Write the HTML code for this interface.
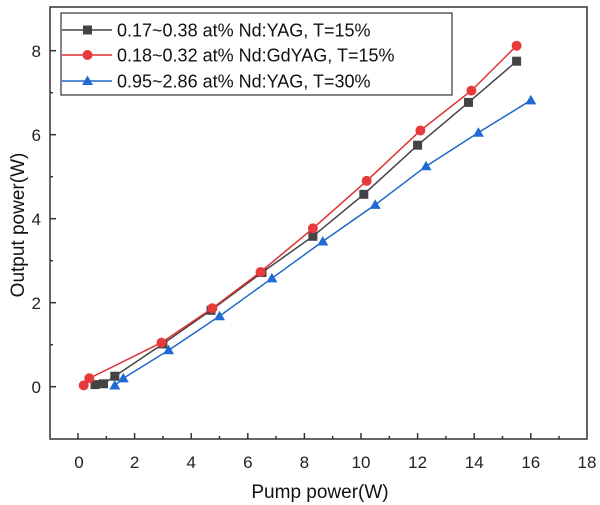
<!DOCTYPE html>
<html><head><meta charset="utf-8"><style>
body{margin:0;background:#fff;}
svg{display:block;font-family:"Liberation Sans",Arial,sans-serif;}
</style></head><body>
<svg width="600" height="505" viewBox="0 0 600 505" xmlns="http://www.w3.org/2000/svg">
<rect x="0" y="0" width="600" height="505" fill="#fff"/>
<rect x="50" y="7" width="537" height="432" fill="none" stroke="#333" stroke-width="1.5"/>
<g stroke="#333" stroke-width="1.5">
<line x1="78" y1="439" x2="78" y2="433"/><line x1="134.6" y1="439" x2="134.6" y2="433"/><line x1="191.2" y1="439" x2="191.2" y2="433"/><line x1="247.8" y1="439" x2="247.8" y2="433"/><line x1="304.4" y1="439" x2="304.4" y2="433"/><line x1="361" y1="439" x2="361" y2="433"/><line x1="417.6" y1="439" x2="417.6" y2="433"/><line x1="474.2" y1="439" x2="474.2" y2="433"/><line x1="530.8" y1="439" x2="530.8" y2="433"/>
<line x1="106.3" y1="439" x2="106.3" y2="436"/><line x1="162.9" y1="439" x2="162.9" y2="436"/><line x1="219.5" y1="439" x2="219.5" y2="436"/><line x1="276.1" y1="439" x2="276.1" y2="436"/><line x1="332.7" y1="439" x2="332.7" y2="436"/><line x1="389.3" y1="439" x2="389.3" y2="436"/><line x1="445.9" y1="439" x2="445.9" y2="436"/><line x1="502.5" y1="439" x2="502.5" y2="436"/><line x1="559.1" y1="439" x2="559.1" y2="436"/>
<line x1="50" y1="386.7" x2="56" y2="386.7"/><line x1="50" y1="302.7" x2="56" y2="302.7"/><line x1="50" y1="218.7" x2="56" y2="218.7"/><line x1="50" y1="134.7" x2="56" y2="134.7"/><line x1="50" y1="50.7" x2="56" y2="50.7"/>
<line x1="50" y1="344.7" x2="53" y2="344.7"/><line x1="50" y1="260.7" x2="53" y2="260.7"/><line x1="50" y1="176.7" x2="53" y2="176.7"/><line x1="50" y1="92.7" x2="53" y2="92.7"/>
</g>
<g font-size="17" fill="#222" text-anchor="middle">
<text x="79" y="468">0</text><text x="134.6" y="468">2</text><text x="191.2" y="468">4</text><text x="247.8" y="468">6</text><text x="304.4" y="468">8</text><text x="361" y="468">10</text><text x="417.6" y="468">12</text><text x="474.2" y="468">14</text><text x="530.8" y="468">16</text><text x="587" y="468">18</text>
</g>
<g font-size="17" fill="#222" text-anchor="end">
<text x="41" y="393">0</text><text x="41" y="309">2</text><text x="41" y="225">4</text><text x="41" y="141">6</text><text x="41" y="57">8</text>
</g>
<text x="320" y="498" font-size="19" fill="#111" text-anchor="middle">Pump power(W)</text>
<text transform="translate(24,225) rotate(-90)" font-size="19" fill="#111" text-anchor="middle">Output power(W)</text>
<!-- black -->
<polyline fill="none" stroke="#444" stroke-width="1.5" points="95,384.6 103.5,383.8 114.8,376.2 162.9,343.9 211,310.3 262,272.5 312.9,236.3 363.8,194.3 417.6,145.2 468.5,102.4 516.6,61.2"/>
<g fill="#444">
<rect x="90.5" y="380.1" width="9" height="9"/><rect x="99" y="379.3" width="9" height="9"/><rect x="110.3" y="371.7" width="9" height="9"/><rect x="158.4" y="339.4" width="9" height="9"/><rect x="206.5" y="305.8" width="9" height="9"/><rect x="257.5" y="268" width="9" height="9"/><rect x="308.4" y="231.8" width="9" height="9"/><rect x="359.3" y="189.8" width="9" height="9"/><rect x="413.1" y="140.7" width="9" height="9"/><rect x="464" y="97.9" width="9" height="9"/><rect x="512.1" y="56.7" width="9" height="9"/>
</g>
<!-- red -->
<polyline fill="none" stroke="#e03030" stroke-width="1.5" points="83.7,385.4 89.3,378.3 161.5,342.6 212.4,308.2 260.5,272.0 312.9,228.4 366.7,180.9 420.4,130.5 471.4,90.6 516.6,45.7"/>
<g fill="#e83a3a">
<circle cx="83.7" cy="385.4" r="5"/><circle cx="89.3" cy="378.3" r="5"/><circle cx="161.5" cy="342.6" r="5"/><circle cx="212.4" cy="308.2" r="5"/><circle cx="260.5" cy="272" r="5"/><circle cx="312.9" cy="228.4" r="5"/><circle cx="366.7" cy="180.9" r="5"/><circle cx="420.4" cy="130.5" r="5"/><circle cx="471.4" cy="90.6" r="5"/><circle cx="516.6" cy="45.7" r="5"/>
</g>
<!-- blue -->
<polyline fill="none" stroke="#2166c8" stroke-width="1.5" points="114.8,385.4 123.3,378.3 168.6,350.2 219.5,316.1 271.9,278.3 322.8,241.4 375.2,204.8 426.1,166.2 478.4,132.6 530.8,100.3"/>
<g fill="#1f6ad4">
<polygon points="114.8,380 120.3,389.5 109.3,389.5"/><polygon points="123.3,372.9 128.8,382.4 117.8,382.4"/><polygon points="168.6,344.8 174.1,354.3 163.1,354.3"/><polygon points="219.5,310.7 225,320.2 214,320.2"/><polygon points="271.9,272.9 277.4,282.4 266.4,282.4"/><polygon points="322.8,236 328.3,245.5 317.3,245.5"/><polygon points="375.2,199.4 380.7,208.9 369.7,208.9"/><polygon points="426.1,160.8 431.6,170.3 420.6,170.3"/><polygon points="478.4,127.2 483.9,136.7 472.9,136.7"/><polygon points="530.8,94.9 536.3,104.4 525.3,104.4"/>
</g>
<!-- legend -->
<rect x="61" y="13" width="391" height="82" fill="#fff" stroke="#333" stroke-width="1.2"/>
<line x1="62" y1="30" x2="112" y2="30" stroke="#444" stroke-width="1.5"/><rect x="83" y="25.5" width="9" height="9" fill="#444"/>
<line x1="62" y1="55" x2="112" y2="55" stroke="#e03030" stroke-width="1.5"/><circle cx="87.5" cy="55" r="5" fill="#e83a3a"/>
<line x1="62" y1="81" x2="112" y2="81" stroke="#2166c8" stroke-width="1.5"/><polygon points="87.5,75.5 93,85 82,85" fill="#1f6ad4"/>
<g font-size="18" fill="#111">
<text x="117" y="36.5">0.17~0.38 at% Nd:YAG, T=15%</text>
<text x="117" y="61.5">0.18~0.32 at% Nd:GdYAG, T=15%</text>
<text x="117" y="87.5">0.95~2.86 at% Nd:YAG, T=30%</text>
</g>
</svg>
</body></html>
